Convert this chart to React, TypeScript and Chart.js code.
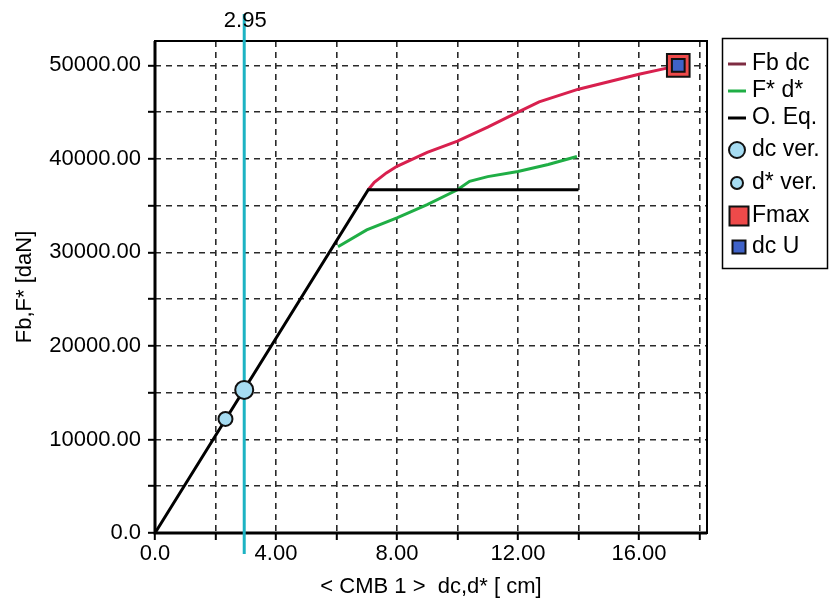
import React, { useEffect, useRef } from 'react';
import { Chart, registerables } from 'chart.js';

Chart.register(...registerables);

// ---- data ----
const FB_X = [7.05, 7.25, 7.65, 8, 9, 10, 11, 12, 12.7, 14, 15, 16, 17, 17.3];
const FB_Y = [36700, 37500, 38500, 39200, 40700, 41900, 43400, 45000, 46100, 47450, 48250, 49050, 49750, 50000];

const FS_X = [6.05, 7, 8, 9, 10, 10.4, 11, 12, 13, 13.95];
const FS_Y = [30600, 32400, 33700, 35100, 36700, 37600, 38100, 38650, 39400, 40250];

const EQ_X = [0, 7.05, 14];
const EQ_Y = [0, 36700, 36700];

const DC_VER_X = [2.95];
const DC_VER_Y = [15300];
const DS_VER_X = [2.33];
const DS_VER_Y = [12200];
const FMAX_X = [17.3];
const FMAX_Y = [50000];
const DCU_X = [17.3];
const DCU_Y = [50000];

const MARK_X = 2.95;
const MARK_LABEL = '2.95';

const SERIES_LABELS = ['Fb dc', 'F* d*', 'O. Eq.', 'dc ver.', 'd* ver.', 'Fmax', 'dc U'];
const X_TITLE = '< CMB 1 >  dc,d* [ cm]';
const Y_TITLE = 'Fb,F* [daN]';
const X_MIN = 0;
const X_MAX = 18.25;
const X_TICKS = [0, 2, 4, 6, 8, 10, 12, 14, 16, 18];
const X_TICK_LABELS = ['0.0', '', '4.00', '', '8.00', '', '12.00', '', '16.00', ''];
const Y_MIN = 0;
const Y_MAX = 52600;
const Y_TICKS = [0, 5000, 10000, 15000, 20000, 25000, 30000, 35000, 40000, 45000, 50000];
const Y_TICK_LABELS = ['0.0', '', '10000.00', '', '20000.00', '', '30000.00', '', '40000.00', '', '50000.00'];

const pts = (xs: number[], ys: number[]) => xs.map((x, i) => ({ x, y: ys[i] }));

const FONT = '"Liberation Sans", Arial, sans-serif';

const decorPlugin = {
  id: 'decor',
  beforeDatasetsDraw(chart: any) {
    const { ctx, chartArea: a, scales } = chart;
    ctx.save();
    // plot frame
    ctx.strokeStyle = '#000';
    ctx.lineWidth = 2;
    ctx.strokeRect(a.left, a.top, a.right - a.left, a.bottom - a.top);
    ctx.lineWidth = 3;
    ctx.beginPath();
    ctx.moveTo(a.left, a.top);
    ctx.lineTo(a.left, a.bottom);
    ctx.lineTo(a.right, a.bottom);
    ctx.stroke();
    // vertical marker
    const x = scales.x.getPixelForValue(MARK_X);
    ctx.strokeStyle = '#1db3c3';
    ctx.lineWidth = 3;
    ctx.beginPath();
    ctx.moveTo(x, 14);
    ctx.lineTo(x, 554);
    ctx.stroke();
    ctx.fillStyle = '#000';
    ctx.font = `22px ${FONT}`;
    ctx.textAlign = 'center';
    ctx.textBaseline = 'middle';
    ctx.fillText(MARK_LABEL, x + 1, 21);
    ctx.restore();
  },
  afterDraw(chart: any) {
    const { ctx } = chart;
    const rows = [64, 91, 118, 150, 183, 216, 247];
    ctx.save();
    ctx.strokeStyle = '#000';
    ctx.lineWidth = 1.5;
    ctx.strokeRect(722.5, 38.5, 105, 230);
    ctx.font = `23px ${FONT}`;
    ctx.textAlign = 'left';
    ctx.textBaseline = 'middle';
    chart.data.datasets.forEach((ds: any, i: number) => {
      const y = rows[i];
      const cx = 737;
      if (ds.legendKind === 'line') {
        ctx.strokeStyle = ds.legendColor || ds.borderColor;
        ctx.lineWidth = 3;
        ctx.beginPath();
        ctx.moveTo(728, y);
        ctx.lineTo(746, y);
        ctx.stroke();
      } else if (ds.legendKind === 'circle') {
        ctx.fillStyle = ds.pointBackgroundColor;
        ctx.strokeStyle = ds.pointBorderColor;
        ctx.lineWidth = 2;
        ctx.beginPath();
        ctx.arc(cx, y, ds.legendSize, 0, Math.PI * 2);
        ctx.fill();
        ctx.stroke();
      } else {
        const s = ds.legendSize;
        ctx.fillStyle = ds.pointBackgroundColor;
        ctx.strokeStyle = ds.pointBorderColor;
        ctx.lineWidth = 2;
        ctx.fillRect(cx + 2 - s / 2, y - s / 2, s, s);
        ctx.strokeRect(cx + 2 - s / 2, y - s / 2, s, s);
      }
      ctx.fillStyle = '#000';
      ctx.fillText(ds.label, 752, y);
    });
    ctx.restore();
  },
};

export default function App() {
  const ref = useRef<HTMLCanvasElement>(null);
  useEffect(() => {
    if (!ref.current) return;
    const gridOpts = {
      color: '#2a2a2a',
      lineWidth: 1.6,
      tickLength: 7,
      tickColor: '#000',
      tickWidth: 2,
      tickBorderDash: [],
    };
    const chart = new Chart(ref.current, {
      type: 'line',
      data: {
        datasets: [
          {
            label: SERIES_LABELS[0],
            data: pts(FB_X, FB_Y),
            borderColor: '#d8204e',
            legendColor: '#7e2c42',
            legendKind: 'line',
            borderWidth: 3,
            pointRadius: 0,
            order: 6,
          } as any,
          {
            label: SERIES_LABELS[1],
            data: pts(FS_X, FS_Y),
            borderColor: '#1fae45',
            legendKind: 'line',
            borderWidth: 3,
            pointRadius: 0,
            order: 5,
          },
          {
            label: SERIES_LABELS[2],
            data: pts(EQ_X, EQ_Y),
            borderColor: '#000',
            legendKind: 'line',
            borderWidth: 3,
            pointRadius: 0,
            order: 4,
          },
          {
            label: SERIES_LABELS[3],
            data: pts(DC_VER_X, DC_VER_Y),
            showLine: false,
            pointStyle: 'circle',
            pointRadius: 9,
            pointBackgroundColor: '#a6dcf2',
            pointBorderColor: '#111',
            pointBorderWidth: 2,
            legendKind: 'circle',
            legendSize: 8,
            order: 3,
          },
          {
            label: SERIES_LABELS[4],
            data: pts(DS_VER_X, DS_VER_Y),
            showLine: false,
            pointStyle: 'circle',
            pointRadius: 7,
            pointBackgroundColor: '#a6dcf2',
            pointBorderColor: '#111',
            pointBorderWidth: 2,
            legendKind: 'circle',
            legendSize: 6,
            order: 2,
          },
          {
            label: SERIES_LABELS[5],
            data: pts(FMAX_X, FMAX_Y),
            showLine: false,
            pointStyle: 'rect',
            pointRadius: 16,
            pointBackgroundColor: '#ee4a4a',
            pointBorderColor: '#111',
            pointBorderWidth: 2,
            legendKind: 'rect',
            legendSize: 19,
            order: 1,
          },
          {
            label: SERIES_LABELS[6],
            data: pts(DCU_X, DCU_Y),
            showLine: false,
            pointStyle: 'rect',
            pointRadius: 9,
            pointBackgroundColor: '#3f62c8',
            pointBorderColor: '#111',
            pointBorderWidth: 2,
            legendKind: 'rect',
            legendSize: 13,
            order: 0,
          },
        ] as any,
      },
      options: {
        animation: false,
        responsive: false,
        devicePixelRatio: 1,
        layout: { padding: { top: 41, right: 123, left: 0, bottom: 0 } },
        plugins: {
          legend: { display: false },
          tooltip: { enabled: false },
        },
        scales: {
          x: {
            type: 'linear',
            min: X_MIN,
            max: X_MAX,
            afterBuildTicks: (s: any) => {
              s.ticks = X_TICKS.map((v) => ({ value: v }));
            },
            afterFit: (s: any) => {
              s.height = 67;
            },
            ticks: {
              autoSkip: false,
              maxRotation: 0,
              padding: 1,
              color: '#000',
              font: { family: FONT, size: 22 },
              callback: (v: any) => {
                const i = X_TICKS.indexOf(Number(v));
                return i >= 0 ? X_TICK_LABELS[i] : '';
              },
            },
            grid: gridOpts,
            border: { display: false, dash: [6, 5] },
            title: {
              display: true,
              text: X_TITLE,
              color: '#000',
              font: { family: FONT, size: 22 },
              padding: { top: 0, bottom: 0 },
            },
          },
          y: {
            type: 'linear',
            min: Y_MIN,
            max: Y_MAX,
            afterBuildTicks: (s: any) => {
              s.ticks = Y_TICKS.map((v) => ({ value: v }));
            },
            afterFit: (s: any) => {
              s.width = 155;
            },
            ticks: {
              autoSkip: false,
              padding: 7,
              color: '#000',
              font: { family: FONT, size: 22 },
              callback: (v: any) => {
                const i = Y_TICKS.indexOf(Number(v));
                return i >= 0 ? Y_TICK_LABELS[i] : '';
              },
            },
            grid: gridOpts,
            border: { display: false, dash: [6, 5] },
            title: {
              display: true,
              text: Y_TITLE,
              color: '#000',
              font: { family: FONT, size: 22 },
              padding: { top: 12, bottom: 0 },
            },
          },
        },
      } as any,
      plugins: [decorPlugin],
    });
    return () => chart.destroy();
  }, []);
  return (
    <div style={{ position: 'absolute', left: 0, top: 0, width: 830, height: 600, background: '#fff' }}>
      <canvas ref={ref} width={830} height={600} style={{ display: 'block' }} />
    </div>
  );
}
